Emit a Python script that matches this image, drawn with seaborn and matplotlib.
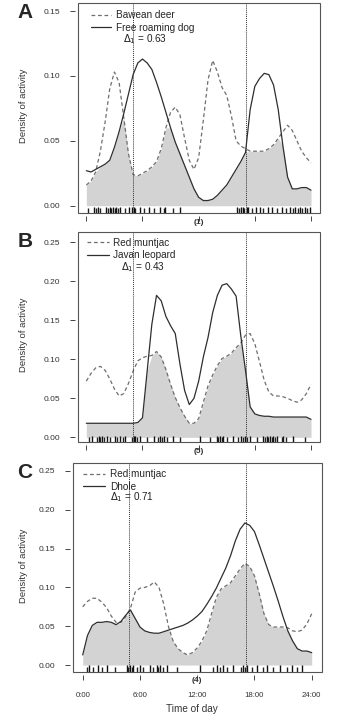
import numpy as np
import pandas as pd
import matplotlib
matplotlib.use("Agg")
import matplotlib.pyplot as plt
from matplotlib.lines import Line2D
from matplotlib.patches import Rectangle
import seaborn as sns

# Hour grid shared by all density curves (read every half hour)
hours = np.arange(0, 24.5, 0.5)

# Panel A: Bawean deer (dashed) vs free roaming dog (solid)
deer_A = [0.016, 0.019, 0.026, 0.042, 0.064, 0.090, 0.103, 0.095, 0.068, 0.040,
          0.024, 0.023, 0.025, 0.027, 0.030, 0.034, 0.044, 0.060, 0.072, 0.076,
          0.070, 0.052, 0.035, 0.028, 0.037, 0.066, 0.097, 0.112, 0.103, 0.091,
          0.085, 0.069, 0.050, 0.046, 0.044, 0.042, 0.042, 0.042, 0.042, 0.044,
          0.047, 0.052, 0.057, 0.062, 0.058, 0.050, 0.042, 0.037, 0.033]
dog_A = [0.027, 0.026, 0.028, 0.030, 0.032, 0.035, 0.045, 0.057, 0.071, 0.086,
         0.101, 0.110, 0.113, 0.110, 0.105, 0.095, 0.084, 0.072, 0.060, 0.049,
         0.040, 0.031, 0.022, 0.013, 0.0065, 0.004, 0.004, 0.005, 0.008, 0.012,
         0.016, 0.022, 0.028, 0.034, 0.041, 0.074, 0.092, 0.098, 0.102, 0.101,
         0.093, 0.074, 0.046, 0.022, 0.013, 0.013, 0.014, 0.014, 0.012]

# Panel B: red muntjac (dashed) vs Javan leopard (solid)
muntjac_B = [0.072, 0.082, 0.089, 0.091, 0.086, 0.075, 0.062, 0.053, 0.056, 0.069,
             0.085, 0.098, 0.102, 0.104, 0.105, 0.110, 0.103, 0.087, 0.068, 0.051,
             0.038, 0.027, 0.018, 0.018, 0.024, 0.045, 0.066, 0.080, 0.092, 0.101,
             0.104, 0.108, 0.115, 0.121, 0.131, 0.133, 0.120, 0.097, 0.073, 0.058,
             0.053, 0.053, 0.052, 0.050, 0.047, 0.045, 0.048, 0.056, 0.068]
leopard_B = [0.018, 0.018, 0.018, 0.018, 0.018, 0.018, 0.018, 0.018, 0.018, 0.018,
             0.018, 0.019, 0.025, 0.085, 0.145, 0.182, 0.175, 0.155, 0.143, 0.133,
             0.094, 0.060, 0.042, 0.050, 0.072, 0.103, 0.128, 0.160, 0.182, 0.195,
             0.197, 0.190, 0.181, 0.130, 0.086, 0.039, 0.030, 0.028, 0.027, 0.027,
             0.026, 0.026, 0.026, 0.026, 0.026, 0.026, 0.026, 0.026, 0.023]

# Panel C: red muntjac (dashed) vs dhole (solid)
muntjac_C = [0.075, 0.082, 0.086, 0.086, 0.081, 0.074, 0.063, 0.055, 0.055, 0.062,
             0.073, 0.094, 0.099, 0.100, 0.102, 0.107, 0.100, 0.078, 0.049, 0.030,
             0.021, 0.016, 0.013, 0.016, 0.022, 0.031, 0.044, 0.066, 0.087, 0.098,
             0.102, 0.106, 0.115, 0.124, 0.131, 0.127, 0.115, 0.092, 0.066, 0.052,
             0.049, 0.049, 0.049, 0.048, 0.044, 0.043, 0.045, 0.053, 0.066]
dhole_C = [0.013, 0.038, 0.051, 0.055, 0.055, 0.056, 0.055, 0.052, 0.056, 0.064,
           0.071, 0.060, 0.049, 0.044, 0.042, 0.041, 0.041, 0.043, 0.045, 0.047,
           0.049, 0.051, 0.054, 0.058, 0.063, 0.069, 0.078, 0.088, 0.099, 0.112,
           0.125, 0.141, 0.160, 0.175, 0.183, 0.180, 0.172, 0.155, 0.137, 0.119,
           0.101, 0.082, 0.062, 0.044, 0.031, 0.021, 0.018, 0.018, 0.016]

# Detection times (rug marks), hours
rug_A1 = [0.14, 1.07, 1.42, 2.28, 2.67, 3.02, 3.38, 4.16, 5.23, 6.19, 7.25, 8.25,
          9.31, 16.36, 16.85, 17.67, 18.91, 20.34, 21.33, 22.05, 22.58, 23.08, 23.61]
rug_A2 = [0.78, 1.24, 2.13, 2.49, 2.84, 3.2, 3.56, 4.52, 4.87, 5.12, 5.76, 6.65,
          7.82, 8.43, 9.96, 16.07, 16.5, 16.71, 17.14, 17.32, 18.13, 18.56, 19.45,
          19.8, 20.87, 21.76, 22.29, 22.83, 23.36, 23.89]
rug_B1 = [0.24, 1.14, 1.49, 1.85, 2.56, 3.3, 3.9, 4.87, 5.4, 6.47, 7.7, 8.07,
          8.6, 10.0, 13.2, 14.1, 14.47, 15.0, 16.2, 16.78, 17.2, 18.2, 19.1, 19.45,
          19.8, 20.16, 20.87, 21.33, 23.36]
rug_B2 = [0.6, 1.32, 1.67, 2.2, 3.1, 3.63, 4.16, 5.05, 5.23, 5.76, 7.18, 7.9,
          8.25, 9.3, 12.17, 13.95, 14.3, 14.65, 15.7, 16.5, 17.0, 17.5, 18.9,
          19.3, 19.6, 19.98, 20.34, 21.05, 22.1]
rug_C1 = [0.42, 1.11, 1.99, 3.38, 4.78, 5.13, 5.66, 6.36, 7.4, 7.92, 8.45, 9.85,
          13.69, 14.39, 15.08, 16.55, 17.0, 17.7, 18.93, 19.98, 21.38, 22.43]
rug_C2 = [0.69, 1.64, 2.51, 4.61, 4.96, 5.31, 6.0, 7.05, 7.75, 8.1, 8.8, 12.29,
          14.04, 14.73, 15.78, 16.76, 17.18, 18.23, 19.28, 20.68, 21.91, 22.95]

panels = [
    dict(letter="A", names=("Bawean deer", "Free roaming dog"), prey=deer_A,
         pred=dog_A, delta="0.63", caption="(1)", yticks=[0, 0.05, 0.10, 0.15],
         rug=(rug_A1, rug_A2), sr=5.0, ss=17.1),
    dict(letter="B", names=("Red muntjac", "Javan leopard"), prey=muntjac_B,
         pred=leopard_B, delta="0.43", caption="(5)",
         yticks=[0, 0.05, 0.10, 0.15, 0.20, 0.25], rug=(rug_B1, rug_B2),
         sr=5.0, ss=17.1),
    dict(letter="C", names=("Red muntjac", "Dhole"), prey=muntjac_C,
         pred=dhole_C, delta="0.71", caption="(4)",
         yticks=[0, 0.05, 0.10, 0.15, 0.20, 0.25], rug=(rug_C1, rug_C2),
         sr=4.9, ss=17.1),
]

# axes boxes in pixels (left, top, right, bottom) and axis limits
W, H = 343, 721
boxes = [(77.7, 3.0, 320.0, 213.0), (77.7, 232.0, 320.0, 442.0),
         (72.7, 463.3, 321.7, 671.7)]
xlims = [(-0.92, 24.96), (-0.92, 24.96), (-1.05, 25.05)]
ylims = [(-0.0056, 0.1562), (-0.006, 0.2632), (-0.0086, 0.2599)]
# legend placement per panel: anchor x, anchor y, handle length, text pad, delta x, delta y
leg_pos = [(0.054, 0.966, 2.0, 0.55, 0.187, 0.83),
           (0.038, 0.972, 2.25, 0.35, 0.177, 0.832),
           (0.041, 0.972, 2.2, 0.5, 0.15, 0.836)]

sns.set_theme(style="white")
plt.rcParams["font.family"] = ["Liberation Sans", "DejaVu Sans"]

fig = plt.figure(figsize=(W / 100, H / 100), dpi=100)

for i, p in enumerate(panels):
    l, t, r, b = boxes[i]
    ax = fig.add_axes([l / W, 1 - b / H, (r - l) / W, (b - t) / H])
    df = pd.DataFrame({
        "hour": np.concatenate([hours, hours]),
        "density": np.concatenate([p["prey"], p["pred"]]),
        "species": [p["names"][0]] * len(hours) + [p["names"][1]] * len(hours),
    })
    overlap = np.minimum(p["prey"], p["pred"])
    ax.fill_between(hours, 0, overlap, color="#d3d3d3", lw=0, zorder=1)
    sns.lineplot(data=df, x="hour", y="density", hue="species", style="species",
                 palette={p["names"][0]: "#6e6e6e", p["names"][1]: "#2e2e2e"},
                 dashes={p["names"][0]: (3, 2.2), p["names"][1]: ""},
                 linewidth=0.9, legend=False, errorbar=None, ax=ax, zorder=3)
    sns.rugplot(x=p["rug"][0], height=0.022, color="#222222", lw=0.6,
                expand_margins=False, ax=ax)
    sns.rugplot(x=p["rug"][1], height=0.03, color="#111111", lw=0.6,
                expand_margins=False, ax=ax)
    ax.axvline(p["sr"], color="#333333", ls=(0, (1, 1)), lw=0.7, zorder=4)
    ax.axvline(p["ss"], color="#333333", ls=(0, (1, 1)), lw=0.7, zorder=4)

    ax.set_xlim(*xlims[i])
    ax.set_ylim(*ylims[i])
    ax.set_xticks([0, 6, 12, 18, 24])
    ax.set_yticks(p["yticks"])
    ax.set_yticklabels([f"{v:.2f}" for v in p["yticks"]])
    if i == 2:
        ax.set_xticklabels(["0:00", "6:00", "12:00", "18:00", "24:00"])
    else:
        ax.set_xticklabels([])
    ax.set_xlabel("")
    ax.set_ylabel("")
    for s in ax.spines.values():
        s.set_visible(False)
    ax.spines["left"].set_position(("outward", 2.2))
    ax.spines["bottom"].set_position(("outward", 2.2))
    ax.add_patch(Rectangle((0, 0), 1, 1, transform=ax.transAxes, fill=False,
                           lw=0.8, ec="#555555", zorder=5, clip_on=False))
    ax.tick_params(axis="y", direction="out", length=3.6, width=0.7,
                   color="#444444", pad=6.5, labelsize=6, left=True,
                   labelcolor="#333333")
    ax.tick_params(axis="x", direction="out", length=3.6, width=0.7,
                   color="#444444", pad=9, labelsize=5.6, bottom=True,
                   labelcolor="#333333")

    # legend
    lx, ly, hl, htp, dx, dy = leg_pos[i]
    handles = [Line2D([], [], color="#6e6e6e", lw=0.9, ls=(0, (3, 2.2))),
               Line2D([], [], color="#2e2e2e", lw=0.9)]
    ax.legend(handles, p["names"], loc="upper left",
              bbox_to_anchor=(lx, ly), frameon=False, fontsize=7.2,
              handlelength=hl, handletextpad=htp, borderpad=0,
              labelspacing=0.25, borderaxespad=0)
    ax.text(dx, dy, r"$\Delta_1$" + " = " + p["delta"], transform=ax.transAxes,
            fontsize=7.2, va="center", ha="left", color="#222222")
    ax.annotate(p["caption"], xy=(12, -0.043), xycoords=("data", "axes fraction"),
                ha="center", va="center", fontsize=6, fontweight="bold",
                color="#333333", annotation_clip=False)

    # panel letter and y label
    fig.text(25 / W, 1 - (t + 9) / H, p["letter"], fontsize=15,
             fontweight="bold", ha="center", va="center")
    fig.text(24 / W, 1 - ((t + b) / 2 - 2) / H, "Density of activity",
             rotation=90, ha="center", va="center", fontsize=6.8,
             color="#333333")

fig.text(0.56, 1 - 709 / H, "Time of day", ha="center", va="center",
         fontsize=7.2, color="#333333")

fig.savefig("out.png", dpi=100)
